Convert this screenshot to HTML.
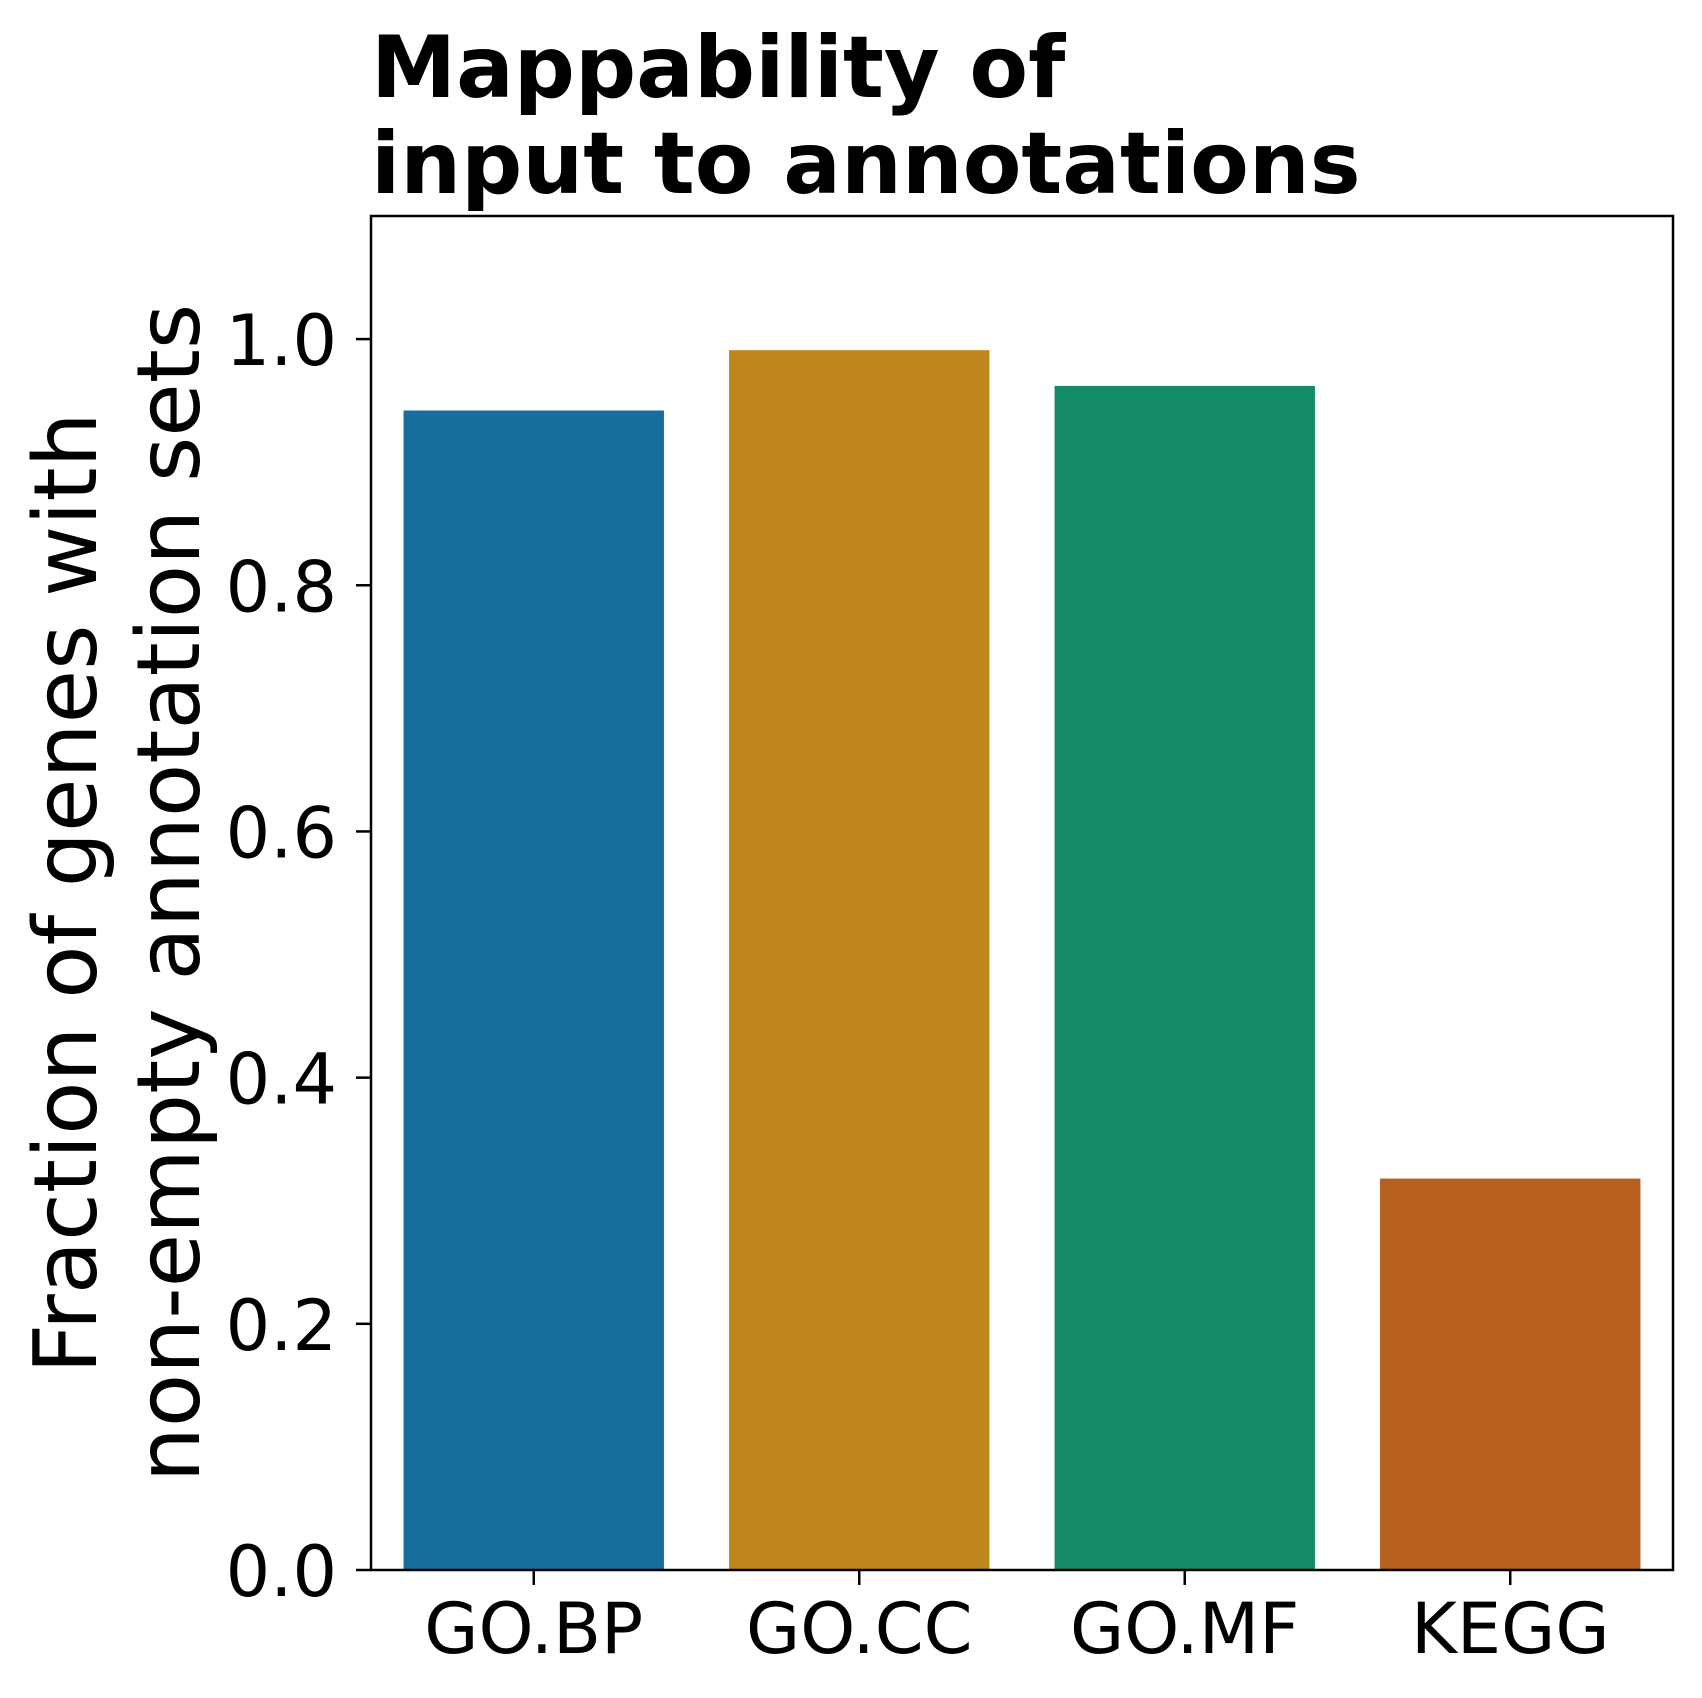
<!DOCTYPE html>
<html><head><meta charset="utf-8"><style>html,body{margin:0;padding:0;background:#fff}svg{display:block}</style></head>
<body>
<svg id="chart" width="1702" height="1698" xmlns="http://www.w3.org/2000/svg" font-family="DejaVu Sans, Liberation Sans, sans-serif">
<g font-weight="bold" font-size="85.5">
<text x="371" y="97">Mappability of</text>
<text x="371" y="193">input to annotations</text>
</g>
<g font-size="87" text-anchor="middle" transform="translate(0,893) rotate(-90)">
<text x="0" y="96">Fraction of genes with</text>
<text x="0" y="199">non-empty annotation sets</text>
</g>
<g id="bars"></g>
<g id="axes"></g>
</svg>
<script>
const categories = ["GO.BP", "GO.CC", "GO.MF", "KEGG"];
const values = [0.942, 0.991, 0.962, 0.318];
const colors = ["#176d9c", "#c0871f", "#168b68", "#b75f1e"];
const yTicks = [0, 0.2, 0.4, 0.6, 0.8, 1.0];
const yTickLabels = ["0.0", "0.2", "0.4", "0.6", "0.8", "1.0"];

const L = 371, R = 1673, T = 216, B = 1570, YMAX = 1.1;
const ns = "http://www.w3.org/2000/svg";
const y = v => B - v / YMAX * (B - T);
const band = (R - L) / categories.length;
const xc = i => L + band * (i + 0.5);
const bars = document.getElementById('bars');
const axes = document.getElementById('axes');
function mk(tag, attrs, parent) { const e = document.createElementNS(ns, tag); for (const k in attrs) e.setAttribute(k, attrs[k]); parent.appendChild(e); return e; }

values.forEach((v, i) => {
  const w = band * 0.8;
  const r = mk('rect', {x: xc(i) - w / 2, y: y(v), width: w, height: B - y(v), fill: colors[i]}, bars);
  
  
  const t = mk('line', {x1: xc(i), x2: xc(i), y1: B, y2: B + 15, stroke: '#000', 'stroke-width': 2.5}, axes);
  
  
  const lb = mk('text', {x: xc(i), y: 1653, 'font-size': 70, 'text-anchor': 'middle'}, axes);
  lb.textContent = categories[i];
  
  
});
yTicks.forEach((v, i) => {
  const t = mk('line', {x1: L - 15, x2: L, y1: y(v), y2: y(v), stroke: '#000', 'stroke-width': 2.5}, axes);
  
  
  const lb = mk('text', {x: 337, y: y(v) + 26, 'font-size': 70, 'text-anchor': 'end'}, axes);
  lb.textContent = yTickLabels[i];
  
  
});
const frame = mk('rect', {x: L, y: T, width: R - L, height: B - T, fill: 'none', stroke: '#000', 'stroke-width': 2.5}, axes);


</script>
</body></html>
